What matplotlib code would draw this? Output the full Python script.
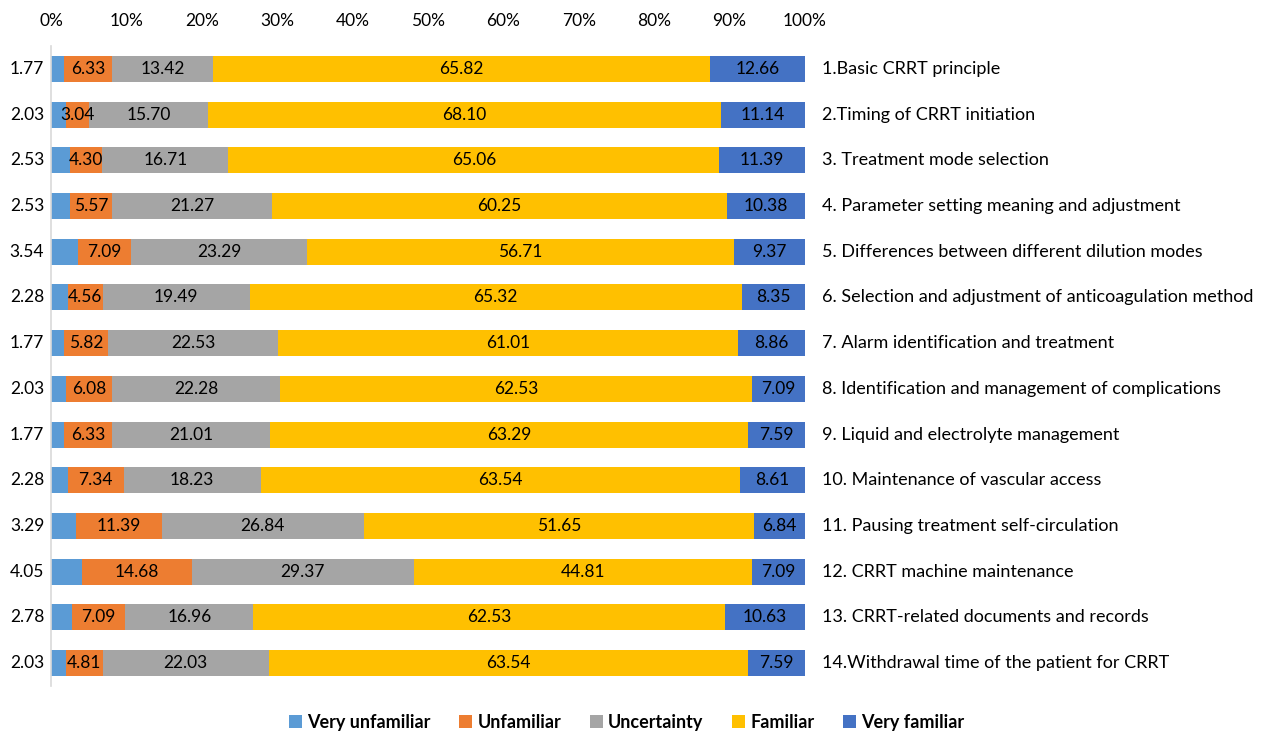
import matplotlib.pyplot as plt
import numpy as np

plt.rcParams['font.family'] = ['Lato', 'DejaVu Sans']

# Survey items (top to bottom) and response shares in percent
items = [
    '1.Basic CRRT principle',
    '2.Timing of CRRT initiation',
    '3. Treatment mode selection',
    '4. Parameter setting meaning and adjustment',
    '5. Differences between different dilution modes',
    '6. Selection and adjustment of anticoagulation method',
    '7. Alarm identification and treatment',
    '8. Identification and management of complications',
    '9. Liquid and electrolyte management',
    '10. Maintenance of vascular access',
    '11. Pausing treatment self-circulation',
    '12. CRRT machine maintenance',
    '13. CRRT-related documents and records',
    '14.Withdrawal time of the patient for CRRT',
]
very_unfamiliar = [1.77, 2.03, 2.53, 2.53, 3.54, 2.28, 1.77, 2.03, 1.77, 2.28, 3.29, 4.05, 2.78, 2.03]
unfamiliar = [6.33, 3.04, 4.30, 5.57, 7.09, 4.56, 5.82, 6.08, 6.33, 7.34, 11.39, 14.68, 7.09, 4.81]
uncertainty = [13.42, 15.70, 16.71, 21.27, 23.29, 19.49, 22.53, 22.28, 21.01, 18.23, 26.84, 29.37, 16.96, 22.03]
familiar = [65.82, 68.10, 65.06, 60.25, 56.71, 65.32, 61.01, 62.53, 63.29, 63.54, 51.65, 44.81, 62.53, 63.54]
very_familiar = [12.66, 11.14, 11.39, 10.38, 9.37, 8.35, 8.86, 7.09, 7.59, 8.61, 6.84, 7.09, 10.63, 7.59]

series = [
    ('Very unfamiliar', very_unfamiliar, '#5B9BD5'),
    ('Unfamiliar', unfamiliar, '#ED7D31'),
    ('Uncertainty', uncertainty, '#A5A5A5'),
    ('Familiar', familiar, '#FFC000'),
    ('Very familiar', very_familiar, '#4472C4'),
]

fig = plt.figure(figsize=(12.66, 7.34), dpi=100)
ax = fig.add_axes([51 / 1266, 1 - 686 / 734, 754 / 1266, 640 / 734])

y = np.arange(len(items))
left = np.zeros(len(items))
for i, (name, vals, color) in enumerate(series):
    vals = np.array(vals)
    ax.barh(y, vals, left=left, height=0.57, color=color, label=name)
    if i == 0:
        # first segment labelled outside the axis, on the left
        for yi, v in zip(y, vals):
            ax.text(-0.9, yi, f'{v:.2f}', ha='right', va='center', fontsize=12.5)
    else:
        for yi, l, v in zip(y, left, vals):
            ax.text(l + v / 2, yi, f'{v:.2f}', ha='center', va='center', fontsize=12.5)
    left += vals

for yi, name in zip(y, items):
    ax.text(102.3, yi, name, ha='left', va='center', fontsize=13)

ax.set_xlim(0, 100)
ax.set_ylim(len(items) - 0.5, -0.5)
ax.xaxis.tick_top()
ax.set_xticks(np.arange(0, 101, 10))
ax.set_xticklabels([f'{t}%' for t in range(0, 101, 10)], fontsize=12.5)
ax.tick_params(axis='x', length=0, pad=12)
ax.set_yticks([])
for s in ['top', 'right', 'bottom']:
    ax.spines[s].set_visible(False)
ax.spines['left'].set_color('#D9D9D9')
ax.spines['left'].set_linewidth(1.2)

fig.legend(loc='lower center', bbox_to_anchor=(0.495, -0.018), ncol=5, frameon=False,
           prop={'weight': 'bold', 'size': 13}, handlelength=0.7, handleheight=0.7,
           handletextpad=0.3, columnspacing=1.6)

fig.savefig('out.png', dpi=100)
